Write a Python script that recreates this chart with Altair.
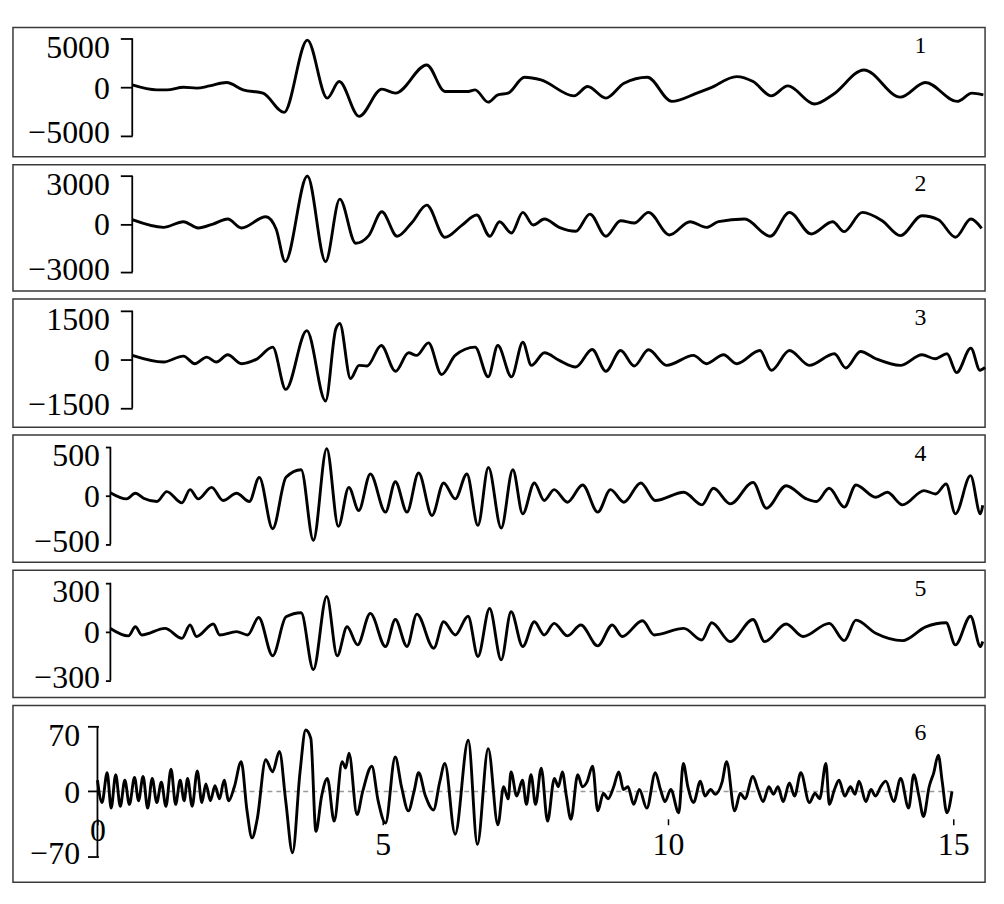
import altair as alt
import pandas as pd

# ---------------- data (time in s, amplitude) ----------------
t1 = [0.00,0.43,0.61,0.90,1.13,1.36,1.66,1.95,2.30,2.67,3.08,3.43,3.64,3.99,4.39,4.63,5.18,5.50,5.91,6.03,6.26,6.43,6.61,6.90,7.19,7.77,8.01,8.33,8.65,9.06,9.49,9.93,10.16,10.63,10.92,11.24,11.53,12.00,12.32,12.87,13.51,13.95,14.51,14.77,14.97]
v1 = [235,-275,-275,0,-100,130,480,-275,-610,-2580,4830,-1120,580,-2990,-200,-610,2280,-440,-440,-275,-1530,-785,-610,1020,750,-890,70,-1120,410,1020,-1460,-610,-100,1090,580,-890,130,-1730,-785,1770,-1020,480,-1460,-610,-785]

t2 = [0.00,0.55,0.90,1.16,1.42,1.68,1.92,2.35,2.53,2.69,3.08,3.40,3.65,3.93,4.16,4.39,4.66,4.92,5.18,5.50,5.79,6.06,6.29,6.46,6.67,6.87,7.05,7.25,7.51,7.80,8.05,8.33,8.59,8.83,9.08,9.45,9.81,10.10,10.31,10.77,11.22,11.56,11.94,12.32,12.52,12.84,13.19,13.51,13.89,14.18,14.48,14.75,14.94]
v2 = [269,-207,145,-248,0,310,-248,455,-310,-2340,3000,-2340,1550,-1200,-725,765,-765,100,1180,-830,-100,560,-765,145,-560,725,-60,310,-207,-455,620,-765,207,60,725,-683,145,-207,145,310,-765,725,-620,145,-476,725,207,-725,517,270,-828,310,-270]

t3 = [0.00,0.55,0.90,1.10,1.31,1.48,1.68,1.92,2.18,2.47,2.70,3.07,3.40,3.58,3.65,3.84,3.99,4.13,4.38,4.63,4.86,5.00,5.21,5.44,5.68,6.03,6.26,6.43,6.67,6.87,7.02,7.25,7.51,7.80,8.09,8.33,8.59,8.83,9.08,9.40,9.87,10.10,10.40,10.63,11.04,11.24,11.56,11.91,12.35,12.55,12.81,13.08,13.51,13.89,14.12,14.33,14.50,14.75,14.91,15.00]
v3 = [122,-82,102,-133,71,-82,143,-133,0,377,-928,887,-1285,938,1110,-592,-184,-204,428,-367,204,122,510,-469,122,377,-540,428,-540,530,-184,204,-31,-235,306,-367,275,-204,296,-184,122,-133,143,-133,275,-337,275,-184,173,-265,245,20,-184,143,20,173,-408,347,-337,-250]

t4 = [0.00,0.28,0.43,0.57,0.80,0.97,1.23,1.37,1.51,1.74,1.94,2.17,2.39,2.56,2.79,3.02,3.28,3.49,3.72,3.92,4.10,4.27,4.47,4.73,4.90,5.10,5.30,5.53,5.73,5.93,6.13,6.32,6.50,6.72,6.92,7.09,7.29,7.46,7.63,7.86,8.12,8.38,8.60,8.83,9.12,9.37,9.86,10.17,10.37,10.66,11.05,11.28,11.62,11.97,12.14,12.36,12.62,12.82,13.16,13.36,13.62,13.99,14.19,14.37,14.53,14.79,14.96,15.00]
v4 = [30,-34,24,-27,-61,41,-75,61,-34,85,-51,24,-61,188,-341,188,266,-460,484,-317,85,-153,222,-170,143,-170,232,-205,130,-34,222,-307,290,-334,266,-188,130,-51,61,-68,109,-170,61,-68,130,-51,34,-95,75,-85,136,-130,102,-34,-61,75,-119,109,-17,34,-95,51,17,119,-188,205,-188,-100]

t5 = [0.00,0.31,0.43,0.54,0.94,1.23,1.37,1.48,1.77,1.88,2.17,2.36,2.55,2.79,3.02,3.28,3.49,3.72,3.90,4.07,4.25,4.47,4.73,4.90,5.10,5.27,5.56,5.73,5.93,6.15,6.32,6.52,6.72,6.89,7.09,7.29,7.46,7.63,7.86,8.09,8.38,8.63,8.80,9.15,9.35,9.86,10.17,10.34,10.66,11.05,11.25,11.62,11.91,12.36,12.62,12.82,13.16,13.62,14.02,14.37,14.53,14.79,14.96,15.00]
v5 = [20,-26,30,-20,20,-41,41,-30,47,-20,0,-20,87,-148,91,116,-233,217,-148,30,-81,112,-91,75,-91,108,-102,61,-20,95,-152,142,-173,122,-91,61,-20,51,-26,41,-87,41,-30,67,-20,20,-51,55,-61,75,-61,47,-30,51,-55,71,-10,-55,30,55,-81,95,-91,-60]

t6 = [0.00,0.08,0.17,0.24,0.32,0.40,0.48,0.56,0.65,0.72,0.80,0.88,0.96,1.04,1.12,1.20,1.29,1.37,1.45,1.52,
      1.58,1.66,1.75,1.83,1.90,1.98,2.06,2.14,2.22,2.30,
      2.40,2.52,2.62,2.71,2.80,2.95,3.07,3.19,3.30,3.42,3.55,3.65,3.74,3.83,3.93,4.03,4.15,4.29,4.35,4.41,
      4.55,4.65,4.81,4.92,5.05,5.22,5.33,5.45,5.55,5.63,5.75,5.89,6.00,6.09,6.27,6.50,6.66,6.85,7.02,
      7.12,7.20,7.25,7.35,7.45,7.52,7.60,7.68,7.78,7.89,8.01,8.08,8.15,8.22,8.30,8.42,8.50,8.58,8.68,8.77,
      8.87,8.95,9.05,9.14,9.22,9.30,9.40,9.50,9.63,9.78,9.87,9.95,10.05,10.19,10.27,10.35,10.45,10.57,10.65,10.75,
      10.83,10.95,11.03,11.17,11.27,11.35,11.49,11.58,11.67,11.77,11.85,11.93,12.02,12.13,12.22,12.33,12.48,12.58,12.66,12.77,
      12.83,12.92,13.00,13.10,13.20,13.28,13.35,13.47,13.56,13.64,13.73,13.82,13.96,14.08,14.22,14.31,14.40,14.48,14.58,14.66,
      14.74,14.81,14.89,14.98]
v6 = [12,-12,20,-18,18,-16,12,-14,15,-10,16,-18,14,-12,10,-16,24,-14,12,-10,
      14,-16,22,-12,8,-10,6,-8,12,-10,
      5,32,-20,-50,-30,34,21,43,-10,-66,20,66,57,-43,-5,14,-32,32,25,41,
      -25,0,27,-10,-34,37,5,-21,0,20,-5,-20,10,30,-46,55,-57,46,-36,
      5,-8,21,-5,12,-14,18,-14,25,-32,14,5,21,-5,-30,18,5,10,27,-21,
      -2,-8,5,21,2,5,-14,2,-18,20,2,-11,2,-23,30,5,-12,11,-5,2,
      -3,10,32,-21,-2,-8,16,2,-11,5,-3,5,-11,9,-5,20,-12,-2,-8,30,
      -14,2,12,-5,5,-3,11,-11,2,-5,5,11,-11,14,-18,18,-5,-27,5,20,
      39,10,-23,0]

ticks = [[-5000, 0, 5000], [-3000, 0, 3000], [-1500, 0, 1500],
         [-500, 0, 500], [-300, 0, 300], [-70, 0, 70]]
ydoms = [[-7143, 6122], [-4178, 3700], [-2093, 1868],
         [-687, 623], [-404, 377], [-97.8, 92.4]]
xdoms = [[-2.098, 15.0], [-2.098, 15.0], [-2.098, 15.0],
         [-1.675, 15.04], [-1.675, 15.04], [-1.481, 15.56]]
labels = ["1", "2", "3", "4", "5", "6"]
x_ticks = [0, 5, 10, 15]

heights = [130, 127, 129, 128, 128, 178]
axis_off = [-120, -120, -120, -98, -98, -86]
tick_size = [12, 12, 12, 5, 5, 11]
label_pad = [11, 11, 11, 6, 6, 8]
label_y = [19, 19, 19, 19, 19, 28]

series = [(t1, v1), (t2, v2), (t3, v3), (t4, v4), (t5, v5), (t6, v6)]

FONT = "Liberation Serif"
W = 978


def panel(i):
    t, v = series[i]
    df = pd.DataFrame({"t": t, "v": v})
    xs = alt.Scale(domain=xdoms[i], nice=False, zero=False)
    ys = alt.Scale(domain=ydoms[i], nice=False, zero=False)
    yaxis = alt.Axis(
        values=ticks[i], offset=axis_off[i], tickSize=tick_size[i], tickWidth=1.8,
        tickColor="black", labelPadding=label_pad[i], labelFont=FONT, labelFontSize=32,
        labelColor="black", domain=False, grid=False, title=None, format="d",
        labelOffset={"condition": [{"test": "datum.value > 0", "value": 9},
                                   {"test": "datum.value < 0", "value": -3}],
                     "value": 1},
    )
    if i == 5:
        xaxis = alt.Axis(
            values=x_ticks, orient="bottom", offset=-64, domain=False, tickSize=6,
            tickColor="black", tickWidth=1.5, labelFont=FONT, labelFontSize=32,
            labelColor="black", grid=False, title=None, format="d",
            labelPadding={"condition": {"test": "datum.value === 0", "value": -9}, "value": 5},
        )
    else:
        xaxis = None

    layers = []
    if i == 5:
        zdf = pd.DataFrame({"t": [x_ticks[0]], "b": [x_ticks[-1]], "v": [0]})
        layers.append(
            alt.Chart(zdf).mark_rule(color="#9a9a9a", strokeWidth=1.5, strokeDash=[5, 4]).encode(
                x=alt.X("t:Q", scale=xs, axis=xaxis), x2="b:Q",
                y=alt.Y("v:Q", scale=ys, axis=yaxis))
        )
    line = alt.Chart(df).mark_line(color="black", strokeWidth=2.9, interpolate="monotone").encode(
        x=alt.X("t:Q", scale=xs, axis=xaxis),
        y=alt.Y("v:Q", scale=ys, axis=yaxis),
    )
    layers.append(line)
    adf = pd.DataFrame({"t": [0], "v": [min(ticks[i])], "hi": [max(ticks[i])]})
    layers.append(
        alt.Chart(adf).mark_rule(color="black", strokeWidth=1.8).encode(
            x=alt.X("t:Q", scale=xs, axis=xaxis),
            y=alt.Y("v:Q", scale=ys, axis=yaxis), y2="hi:Q")
    )
    ldf = pd.DataFrame({"lab": [labels[i]]})
    layers.append(
        alt.Chart(ldf).mark_text(font=FONT, fontSize=24, color="black", align="center",
                                 baseline="middle").encode(
            x=alt.value(913), y=alt.value(label_y[i]), text="lab:N")
    )
    return alt.layer(*layers).properties(width=W, height=heights[i])


chart = alt.vconcat(*[panel(i) for i in range(6)], spacing=6).properties(
    padding={"left": 4, "top": 16, "right": 4, "bottom": 4}
).configure_view(stroke="#3a3a3a", strokeWidth=1.5)

chart.save("out.html", embed_options={"renderer": "svg", "actions": False})
